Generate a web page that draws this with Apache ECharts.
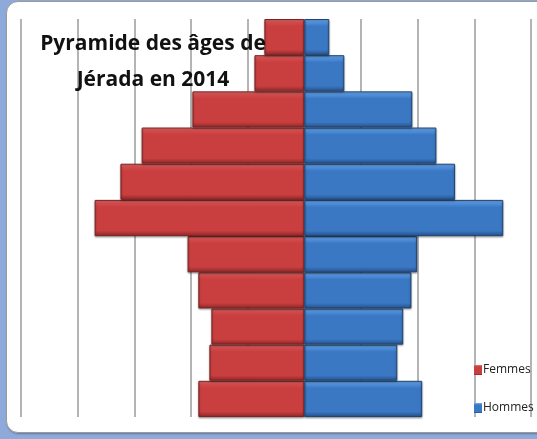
<!DOCTYPE html>
<html>
<head>
<meta charset="utf-8">
<script src="https://cdn.jsdelivr.net/npm/echarts@6/dist/echarts.min.js"></script>
<style>
  html, body { margin: 0; padding: 0; background: #8eaadb; }
  .frame {
    position: absolute; left: 6px; top: 1px; width: 545px; height: 430px;
    background: #fff; border: 1px solid #9a9a9a; border-radius: 12px;
    box-shadow: 1px 1px 2px rgba(0,0,0,0.3);
  }
  #chart { position: absolute; left: 0; top: 0; width: 537px; height: 439px; }
</style>
</head>
<body>
<div class="frame"></div>
<div id="chart"></div>
<script>
  // age groups, bottom row first
  var categories = ['0-4', '5-9', '10-14', '15-19', '20-24', '25-29', '30-34', '35-39', '40-44', '45-49', '50+']
  var femmes = [1870, 1675, 1640, 1870, 2060, 3700, 3245, 2870, 1975, 880, 705]
  var hommes = [2080, 1640, 1745, 1890, 1990, 3510, 2660, 2330, 1905, 705, 440]
  var xTicks = {min: -5000, max: 4000, step: 1000}

  function bevel (light, mid, main, dark) {
    return {
      type: 'linear', x: 0, y: 0, x2: 0, y2: 1,
      colorStops: [
        {offset: 0, color: light},
        {offset: 0.1, color: mid},
        {offset: 0.2, color: main},
        {offset: 0.85, color: main},
        {offset: 1, color: dark}
      ]
    }
  }

  var chart = echarts.init(document.getElementById('chart'))
  var option = {
    animation: false,
    color: ['#c93f3f', '#3b78c3'],
    title: {
      text: 'Pyramide des âges de\nJérada en 2014',
      left: 148,
      top: 21,
      textAlign: 'center',
      textStyle: {
        fontFamily: 'Open Sans',
        fontWeight: 'bold',
        fontSize: 21,
        lineHeight: 36,
        color: '#111'
      }
    },
    legend: {
      orient: 'vertical',
      left: 469,
      top: 359,
      itemWidth: 8,
      itemHeight: 10,
      itemGap: 26,
      icon: 'rect',
      data: ['Femmes', 'Hommes'],
      itemStyle: {borderWidth: 0},
      textStyle: {fontFamily: 'Open Sans', fontSize: 12, color: '#222', padding: [0, 0, 0, -4]}
    },
    grid: {left: 21, right: 6, top: 19, bottom: 22, containLabel: false},
    xAxis: {
      type: 'value',
      min: xTicks.min,
      max: xTicks.max,
      interval: xTicks.step,
      axisLabel: {show: false},
      axisLine: {show: false},
      axisTick: {show: false},
      splitLine: {lineStyle: {color: '#b4b4b4', width: 2}}
    },
    yAxis: {
      type: 'category',
      data: categories,
      axisLabel: {show: false},
      axisLine: {show: false},
      axisTick: {show: false}
    },
    series: [
      {
        name: 'Femmes',
        type: 'bar',
        stack: 'pop',
        barCategoryGap: 0,
        data: femmes.map(function (v) { return -v }),
        itemStyle: {
          color: bevel('#ee7a7a', '#d44a4a', '#c93f3f', '#8c2626'),
          borderColor: '#7e2323',
          borderWidth: 1,
          shadowColor: 'rgba(0,0,0,0.35)',
          shadowBlur: 2,
          shadowOffsetY: 1
        }
      },
      {
        name: 'Hommes',
        type: 'bar',
        stack: 'pop',
        barCategoryGap: 0,
        data: hommes,
        itemStyle: {
          color: bevel('#79b6f5', '#4e8fdc', '#3b78c3', '#244f88'),
          borderColor: '#1f4677',
          borderWidth: 1,
          shadowColor: 'rgba(0,0,0,0.35)',
          shadowBlur: 2,
          shadowOffsetY: 1
        }
      }
    ]
  }
  chart.setOption(option)
</script>
</body>
</html>
